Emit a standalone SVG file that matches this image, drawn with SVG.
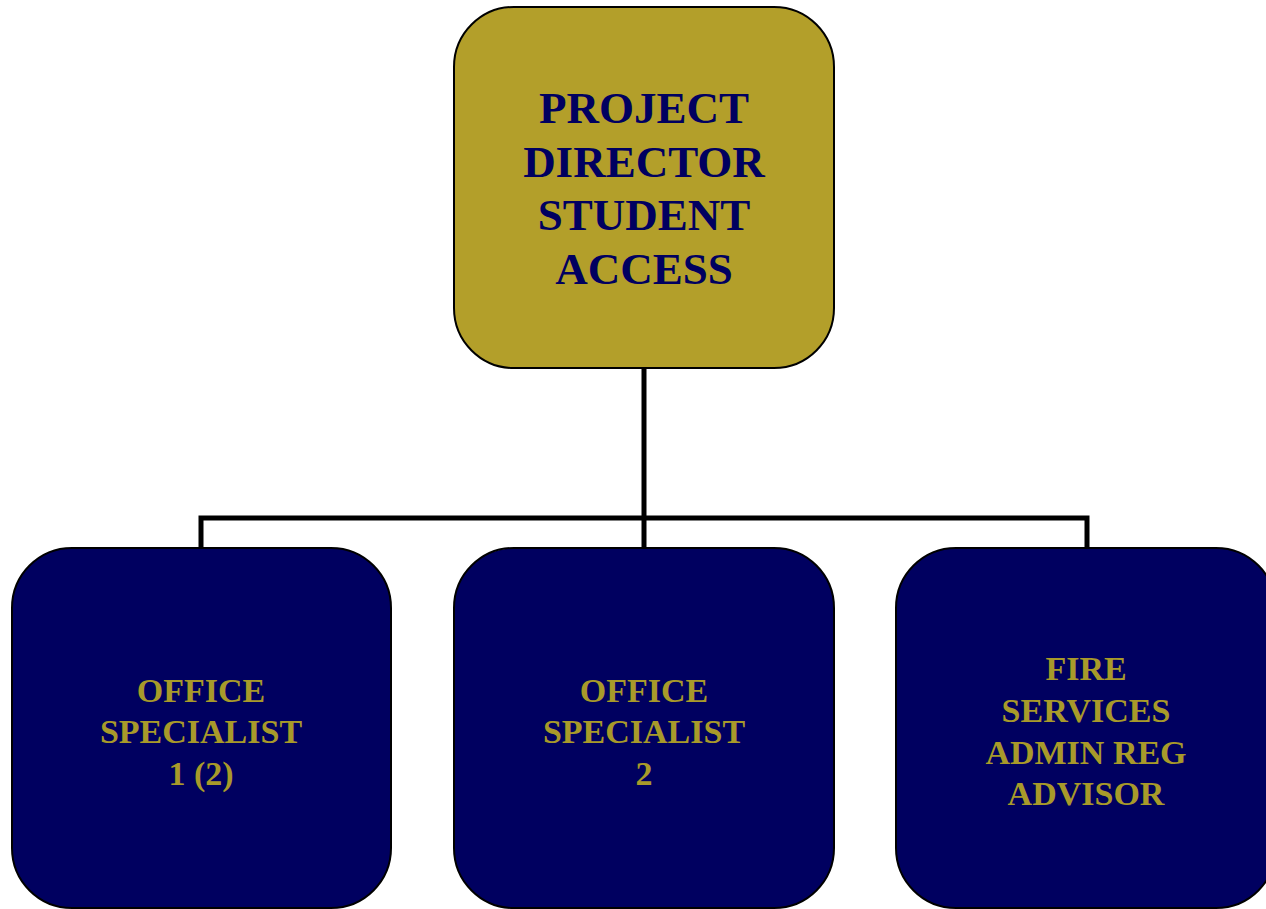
<svg xmlns="http://www.w3.org/2000/svg" width="1266" height="909" viewBox="0 0 1266 909">
<style>
.box{stroke:#000;stroke-width:2}
.gold{fill:#B39F2A}
.navy{fill:#000060}
.t1{font-family:"Liberation Serif","Times New Roman",serif;font-weight:bold;font-size:45px;fill:#000060;text-anchor:middle}
.t2{font-family:"Liberation Serif","Times New Roman",serif;font-weight:bold;font-size:34px;fill:#A89A2A;text-anchor:middle}
.conn{fill:none;stroke:#000;stroke-width:5}
</style>
<rect width="1266" height="909" fill="#fff"/>
<g id="connectors">
<path class="conn" d="M644 368 V518 M201 548 V518 H1087 V548 M644 518 V548"/>
</g>
<g id="director">
<rect class="box gold" x="454" y="7" width="380" height="361" rx="60"/>
<text class="t1" x="644" y="123">PROJECT</text>
<text class="t1" x="644" y="177">DIRECTOR</text>
<text class="t1" x="644" y="230">STUDENT</text>
<text class="t1" x="644" y="284">ACCESS</text>
</g>
<g id="os1">
<rect class="box navy" x="12" y="548" width="379" height="360" rx="60"/>
<text class="t2" x="201" y="702">OFFICE</text>
<text class="t2" x="201" y="743">SPECIALIST</text>
<text class="t2" x="201" y="785">1 (2)</text>
</g>
<g id="os2">
<rect class="box navy" x="454" y="548" width="380" height="360" rx="60"/>
<text class="t2" x="644" y="702">OFFICE</text>
<text class="t2" x="644" y="743">SPECIALIST</text>
<text class="t2" x="644" y="785">2</text>
</g>
<g id="fire">
<rect class="box navy" x="896" y="548" width="380" height="360" rx="60"/>
<text class="t2" x="1086" y="680">FIRE</text>
<text class="t2" x="1086" y="722">SERVICES</text>
<text class="t2" x="1086" y="764">ADMIN REG</text>
<text class="t2" x="1086" y="805">ADVISOR</text>
</g>
</svg>
